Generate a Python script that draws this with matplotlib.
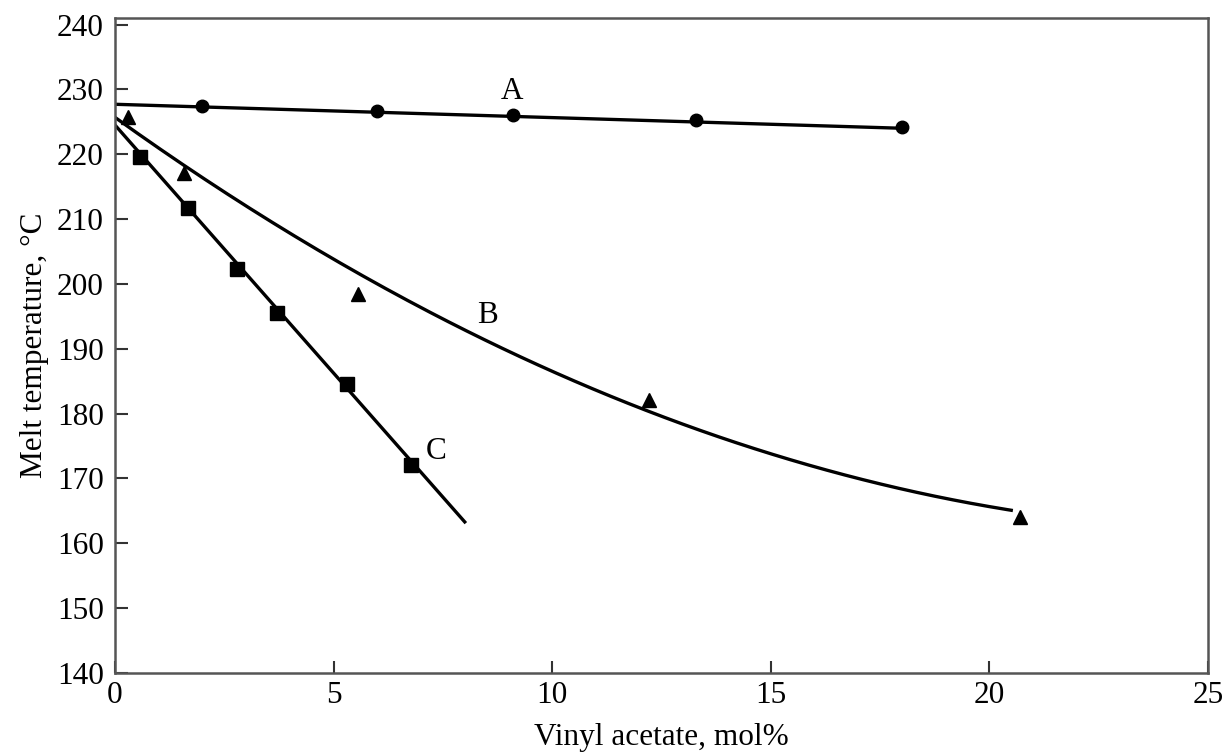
import numpy as np
import matplotlib
matplotlib.use("Agg")
import matplotlib.pyplot as plt

plt.rcParams["font.family"] = ["Liberation Serif", "DejaVu Serif"]

# ── Data ────────────────────────────────────────────────────────────────────
# A: circles
a_x = [2.0, 6.0, 9.1, 13.3, 18.0]
a_y = [227.4, 226.6, 226.0, 225.2, 224.2]
a_line_x = [0.0, 18.0]
a_line_y = [227.7, 224.0]

# B: triangles
b_x = [0.29, 1.58, 5.57, 12.21, 20.70]
b_y = [225.8, 217.1, 198.5, 182.1, 164.1]
# points along the drawn B curve
b_curve_x = [0.0, 5.57, 9.95, 13.38, 20.5]
b_curve_y = [225.5, 202.1, 186.5, 177.2, 165.2]

# C: squares
c_x = [0.57, 1.66, 2.78, 3.70, 5.30, 6.77]
c_y = [219.6, 211.7, 202.3, 195.5, 184.5, 172.1]
c_line_x = [0.0, 8.0]
c_line_y = [224.5, 163.3]

x_ticks = [0, 5, 10, 15, 20, 25]
y_ticks = [140, 150, 160, 170, 180, 190, 200, 210, 220, 230, 240]

# ── Figure ──────────────────────────────────────────────────────────────────
fig = plt.figure(figsize=(12.31, 7.54), dpi=100)
ax = fig.add_axes([0.0934, 0.1074, 0.8879, 0.8687])

lw = 2.4
ax.plot(a_line_x, a_line_y, color="black", lw=lw)
ax.plot(a_x, a_y, "o", color="black", ms=9)

coef = np.polyfit(b_curve_x, b_curve_y, 2)
xs = np.linspace(b_curve_x[0], b_curve_x[-1], 200)
ax.plot(xs, np.polyval(coef, xs), color="black", lw=lw)
ax.plot(b_x, b_y, "^", color="black", ms=10.5)

ax.plot(c_line_x, c_line_y, color="black", lw=lw)
ax.plot(c_x, c_y, "s", color="black", ms=9.5)

fs = 22.5
ax.text(9.08, 229.6, "A", fontsize=fs, ha="center", va="center")
ax.text(8.53, 195.2, "B", fontsize=fs, ha="center", va="center")
ax.text(7.34, 174.1, "C", fontsize=fs, ha="center", va="center")

ax.set_xlim(0, 25)
ax.set_ylim(140, 241)
ax.set_xticks(x_ticks)
ax.set_yticks(y_ticks)
ax.tick_params(direction="in", length=9, width=1.5, labelsize=fs,
               top=False, right=False, color="#333333")
ax.tick_params(axis="x", pad=6)
ax.tick_params(axis="y", pad=8)
for sp in ax.spines.values():
    sp.set_linewidth(1.8)
    sp.set_color("#555555")

ax.set_xlabel("Vinyl acetate, mol%", fontsize=fs, labelpad=9)
ax.set_ylabel("Melt temperature, °C", fontsize=fs, labelpad=6)

fig.savefig("out.png", dpi=100)
